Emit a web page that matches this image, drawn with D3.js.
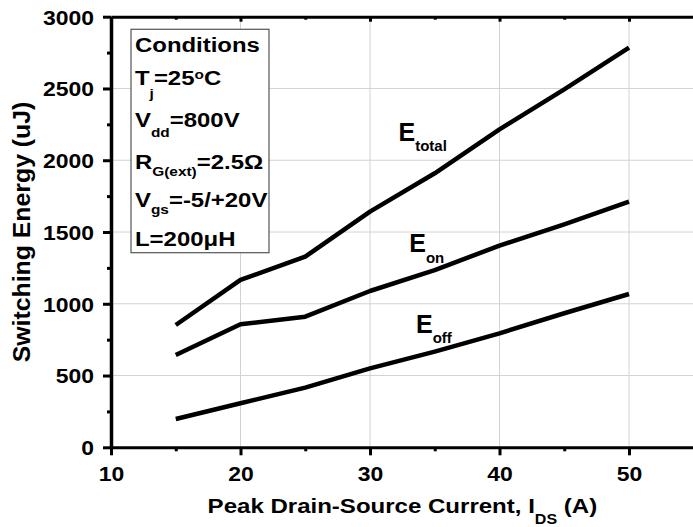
<!DOCTYPE html>
<html>
<head>
<meta charset="utf-8">
<script src="https://cdn.jsdelivr.net/npm/d3@7/dist/d3.min.js"></script>
<style>
    body { margin: 0; background: #fff; }
    svg text { font-family: "Liberation Sans", Arial, sans-serif; font-weight: bold; fill: #000; }
</style>
</head>
<body>
<div id="chart"></div>
<script>
// Switching energy vs peak drain-source current
var current = [15, 20, 25, 30, 35, 40, 45, 50];
var eTotal = [852, 1166, 1328, 1642, 1909, 2215, 2494, 2784];
var eOn = [643, 857, 910, 1089, 1235, 1405, 1553, 1712];
var eOff = [197, 307, 416, 550, 667, 794, 934, 1068];

var xTicks = [10, 20, 30, 40, 50];
var xMinor = [15, 25, 35, 45];
var yTicks = [0, 500, 1000, 1500, 2000, 2500, 3000];
var yMinor = [250, 750, 1250, 1750, 2250, 2750];

// condition box lines: [text, kind] with kind "", "sub" or "sup"
var conditionLines = [
    [["Conditions", ""]],
    [["T", ""], ["j", "sub"], ["=25", ""], ["o", "sup"], ["C", ""]],
    [["V", ""], ["dd", "sub"], ["=800V", ""]],
    [["R", ""], ["G(ext)", "sub"], ["=2.5\u03A9", ""]],
    [["V", ""], ["gs", "sub"], ["=-5/+20V", ""]],
    [["L=200\u03BCH", ""]]
];
var seriesNames = [["E", "total"], ["E", "on"], ["E", "off"]];

var chart = { width: 693, height: 527 };
var TX = 1.12; // text looks a bit wider than Liberation Sans

var svg = d3.select("#chart").append("svg")
    .attr("width", chart.width)
    .attr("height", chart.height);

var x = d3.scaleLinear().domain([10, 55]).range([111, 693.75]);
var y = d3.scaleLinear().domain([0, 3000]).range([447.3, 16.7]);

// grid
var grid = svg.append("g").attr("stroke", "#d2d2d2").attr("stroke-width", 1);
grid.selectAll(".vg").data(xTicks.slice(1)).enter().append("line")
    .attr("x1", function(d) { return x(d); }).attr("x2", function(d) { return x(d); })
    .attr("y1", y(3000)).attr("y2", y(0));
grid.selectAll(".hg").data(yTicks.slice(1, -1)).enter().append("line")
    .attr("x1", x(10)).attr("x2", x(55))
    .attr("y1", function(d) { return y(d); }).attr("y2", function(d) { return y(d); });

// series
var line = d3.line()
    .x(function(d) { return x(d[0]); })
    .y(function(d) { return y(d[1]); });
[eTotal, eOn, eOff].forEach(function(vals) {
    svg.append("path")
        .datum(current.map(function(c, i) { return [c, vals[i]]; }))
        .attr("d", line)
        .attr("fill", "none")
        .attr("stroke", "#000")
        .attr("stroke-width", 4.5)
        .attr("stroke-linejoin", "round");
});

// axes
function styleAxis(g, width) {
    g.select(".domain").attr("stroke", "#000").attr("stroke-width", width);
    g.selectAll(".tick line").attr("stroke", "#000").attr("stroke-width", 3);
}
var bottom = svg.append("g").attr("transform", "translate(0," + y(0) + ")")
    .call(d3.axisBottom(x).tickValues(xTicks).tickSize(8).tickSizeOuter(0).tickPadding(11.5).tickFormat(d3.format("d")));
styleAxis(bottom, 3);
svg.append("g").attr("transform", "translate(0," + y(0) + ")")
    .call(d3.axisBottom(x).tickValues(xMinor).tickSize(4).tickSizeOuter(0).tickFormat(""))
    .call(function(g) { g.select(".domain").remove(); styleAxis(g, 0); });

var topAx = svg.append("g").attr("transform", "translate(0," + y(3000) + ")")
    .call(d3.axisTop(x).tickValues(xTicks).tickSize(-5).tickSizeOuter(0).tickFormat(""));
styleAxis(topAx, 3);
svg.append("g").attr("transform", "translate(0," + y(3000) + ")")
    .call(d3.axisTop(x).tickValues(xMinor).tickSize(-3).tickSizeOuter(0).tickFormat(""))
    .call(function(g) { g.select(".domain").remove(); styleAxis(g, 0); });

var left = svg.append("g").attr("transform", "translate(" + x(10) + ",0)")
    .call(d3.axisLeft(y).tickValues(yTicks).tickSize(8).tickSizeOuter(0).tickPadding(9).tickFormat(d3.format("d")));
styleAxis(left, 3.5);
svg.append("g").attr("transform", "translate(" + x(10) + ",0)")
    .call(d3.axisLeft(y).tickValues(yMinor).tickSize(4).tickSizeOuter(0).tickFormat(""))
    .call(function(g) { g.select(".domain").remove(); styleAxis(g, 0); });

bottom.selectAll(".tick text")
    .attr("font-size", "20.5px").attr("font-family", null)
    .attr("transform", "scale(" + TX + ",1)");
left.selectAll(".tick text")
    .attr("font-size", "20.5px").attr("font-family", null)
    .attr("x", -17 / TX).attr("dy", "0.36em")
    .attr("transform", "scale(" + TX + ",1)");

// conditions box
svg.append("rect")
    .attr("x", 131).attr("y", 29.3).attr("width", 138).attr("height", 223.4)
    .attr("fill", "#fff").attr("stroke", "#555").attr("stroke-width", 1.2);

var baselines = [51.7, 85, 126.5, 169, 206.7, 245.7];
var subShift = [0, 13, 10.6, 6.7, 7.3, 0];
conditionLines.forEach(function(parts, i) {
    var t = svg.append("g")
        .attr("transform", "translate(135," + baselines[i] + ") scale(1.14,1)")
        .append("text").attr("font-size", "21px");
    var cur = 0;
    parts.forEach(function(p) {
        var want = p[1] === "sub" ? subShift[i] : (p[1] === "sup" ? -6 : 0);
        t.append("tspan")
            .attr("dy", want - cur)
            .attr("font-size", p[1] ? "13.5px" : null)
            .text(p[0]);
        cur = want;
    });
});

// series labels, anchored in data units
var labelAt = [[32.2, 2136, 10], [33.03, 1363, 11.6], [33.55, 794, 9.4]];
seriesNames.forEach(function(n, i) {
    var t = svg.append("text")
        .attr("x", x(labelAt[i][0])).attr("y", y(labelAt[i][1]))
        .attr("font-size", "25px");
    t.append("tspan").text(n[0]);
    t.append("tspan").attr("dy", labelAt[i][2]).attr("font-size", "15px").text(n[1]);
});

// axis titles
var xt = svg.append("g")
    .attr("transform", "translate(" + ((x(10) + x(55)) / 2) + ",513.3) scale(1.145,1)")
    .append("text").attr("font-size", "21px").attr("text-anchor", "middle");
xt.append("tspan").text("Peak Drain-Source Current, I");
xt.append("tspan").attr("dy", 10.7).attr("font-size", "14px").text("DS");
xt.append("tspan").attr("dy", -10.7).text(" (A)");

svg.append("text")
    .attr("transform", "translate(30," + ((y(0) + y(3000)) / 2) + ") rotate(-90) scale(1.035,1)")
    .attr("font-size", "24px")
    .attr("text-anchor", "middle")
    .text("Switching Energy (uJ)");
</script>
</body>
</html>
